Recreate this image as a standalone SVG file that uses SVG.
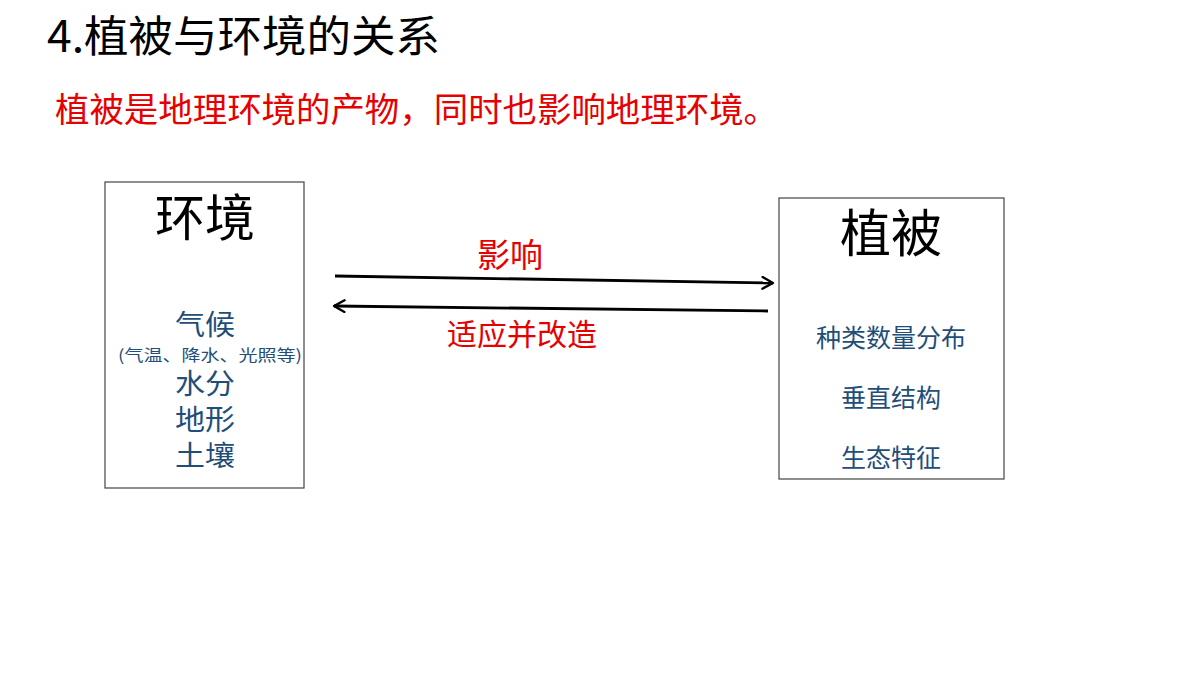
<svg xmlns="http://www.w3.org/2000/svg" width="1200" height="675" viewBox="0 0 1200 675">
<style>
text{font-family:"Noto Sans CJK SC","Noto Sans",sans-serif;}
.box{fill:#fff;stroke:#444;stroke-width:1.2;}
.head{fill:#000;text-anchor:middle;}
.item{fill:#1f4e79;text-anchor:middle;}
.red{fill:#e60000;}
.conn{stroke:#000;stroke-width:2.8;fill:none;}
</style>
<defs>
<marker id="arr" viewBox="0 0 12 12" refX="10" refY="6" markerWidth="5" markerHeight="5" markerUnits="strokeWidth" orient="auto">
<path d="M1,1 L10,6 L1,11" fill="none" stroke="#000" stroke-width="2" stroke-linecap="round" stroke-linejoin="round"/>
</marker>
</defs>
<rect width="1200" height="675" fill="#fff"/>
<text x="47" y="52" font-size="43" fill="#000" textLength="393" lengthAdjust="spacingAndGlyphs">4.植被与环境的关系</text>
<text x="55" y="122" font-size="34" class="red" textLength="723" lengthAdjust="spacingAndGlyphs">植被是地理环境的产物，同时也影响地理环境。</text>
<g id="env">
<rect class="box" x="105" y="182" width="199" height="306"/>
<text class="head" x="205" y="236" font-size="50">环境</text>
<text class="item" x="205" y="335" font-size="28" textLength="60" lengthAdjust="spacingAndGlyphs">气候</text>
<text class="item" x="210" y="361" font-size="16" textLength="184" lengthAdjust="spacingAndGlyphs">(气温、降水、光照等)</text>
<text class="item" x="205" y="394" font-size="28" textLength="60" lengthAdjust="spacingAndGlyphs">水分</text>
<text class="item" x="205" y="430" font-size="28" textLength="60" lengthAdjust="spacingAndGlyphs">地形</text>
<text class="item" x="205" y="466" font-size="28" textLength="60" lengthAdjust="spacingAndGlyphs">土壤</text>
</g>
<g id="veg">
<rect class="box" x="779" y="198" width="225" height="281"/>
<text class="head" x="891" y="252" font-size="51">植被</text>
<text class="item" x="891" y="347" font-size="25">种类数量分布</text>
<text class="item" x="891" y="407" font-size="25">垂直结构</text>
<text class="item" x="891" y="467" font-size="25">生态特征</text>
</g>
<g id="connectors">
<line class="conn" x1="335" y1="276" x2="773" y2="283" marker-end="url(#arr)"/>
<line class="conn" x1="768" y1="311" x2="334" y2="306" marker-end="url(#arr)"/>
<text x="510" y="267" font-size="33" class="red" text-anchor="middle">影响</text>
<text x="522" y="345" font-size="30" class="red" text-anchor="middle">适应并改造</text>
</g>
</svg>
